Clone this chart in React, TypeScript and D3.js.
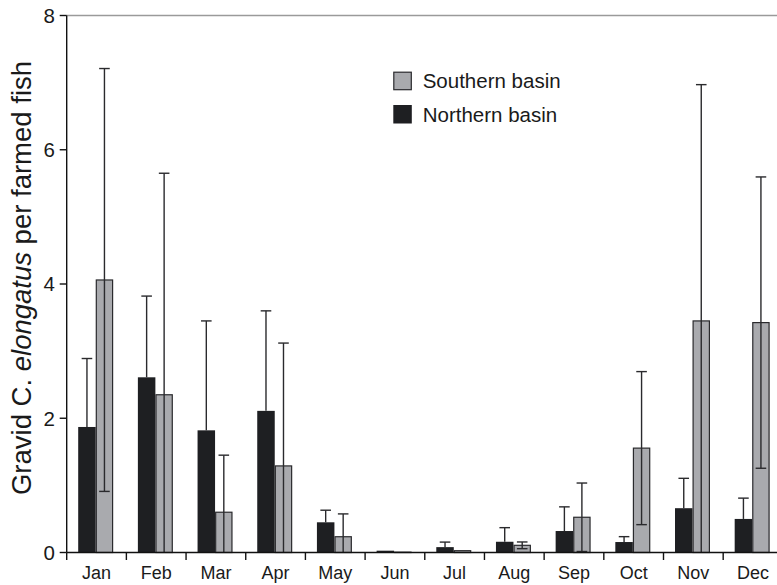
import React from "react";
import * as d3 from "d3";

const months = ["Jan", "Feb", "Mar", "Apr", "May", "Jun", "Jul", "Aug", "Sep", "Oct", "Nov", "Dec"];
const northern = [1.87, 2.61, 1.82, 2.11, 0.45, 0.027, 0.08, 0.16, 0.32, 0.156, 0.66, 0.5];
const northernErr = [1.02, 1.21, 1.63, 1.49, 0.18, 0.0, 0.075, 0.21, 0.36, 0.08, 0.445, 0.31];
const southern = [4.06, 2.35, 0.6, 1.29, 0.235, 0.005, 0.027, 0.107, 0.525, 1.555, 3.45, 3.425];
const southernErr = [3.15, 3.3, 0.85, 1.83, 0.34, 0, 0, 0.05, 0.51, 1.14, 3.52, 2.17];
const yTicks = [0, 2, 4, 6, 8];

const W = 777;
const H = 585;
const FONT = "'Liberation Sans', Arial, Helvetica, sans-serif";
const BLACK = "#1e1f22";
const GREY = "#a9aaae";
const LINE = "#2a2a2d";

export default function App() {
  const x0 = 66.7;
  const step = 59.68;
  const x = d3.scaleBand<string>().domain(months).range([x0, x0 + step * 12]).padding(0);
  const inner = d3.scaleBand<string>().domain(["N", "S"]).range([11.5, 46.5]).padding(0);
  const y = d3.scaleLinear().domain([0, 8]).range([552.5, 15.5]);
  const bw = inner.bandwidth();
  const cap = 5.3;

  const series = [
    { key: "N", vals: northern, errs: northernErr, fill: BLACK, stroke: "none" },
    { key: "S", vals: southern, errs: southernErr, fill: GREY, stroke: LINE },
  ];

  return (
    <svg width={W} height={H} style={{ position: "absolute", left: 0, top: 0, background: "#fff" }}>
      <line x1={x0} x2={W} y1={y(8)} y2={y(8)} stroke="#9a9a9a" strokeWidth={1.3} />
      {series.map((s) =>
        months.map((m, i) => {
          const bx = (x(m) as number) + (inner(s.key) as number);
          const v = s.vals[i];
          return (
            <rect
              key={s.key + m}
              x={bx + (s.stroke === "none" ? 0 : 0.6)}
              y={y(v)}
              width={bw - (s.stroke === "none" ? 0 : 1.2)}
              height={y(0) - y(v)}
              fill={s.fill}
              stroke={s.stroke}
              strokeWidth={1.2}
            />
          );
        })
      )}
      {series.map((s) =>
        months.map((m, i) => {
          const e = s.errs[i];
          if (e <= 0) return null;
          const cx = (x(m) as number) + (inner(s.key) as number) + bw / 2;
          const v = s.vals[i];
          const hi = v + e;
          const dark = s.key === "N";
          const lo = dark ? v : Math.max(0, v - e);
          const showLo = !dark && v - e > 0.01;
          return (
            <g key={"e" + s.key + m} stroke={LINE} strokeWidth={1.4}>
              <line x1={cx} x2={cx} y1={y(hi)} y2={y(lo)} />
              <line x1={cx - cap} x2={cx + cap} y1={y(hi)} y2={y(hi)} />
              {showLo && <line x1={cx - cap} x2={cx + cap} y1={y(lo)} y2={y(lo)} />}
            </g>
          );
        })
      )}
      <line x1={x0} x2={x0} y1={y(8)} y2={y(0)} stroke="#111" strokeWidth={1.4} />
      <line x1={x0} x2={W} y1={y(0)} y2={y(0)} stroke="#111" strokeWidth={1.4} />
      {yTicks.map((t) => (
        <g key={"yt" + t}>
          <line x1={x0 - 7} x2={x0} y1={y(t)} y2={y(t)} stroke="#111" strokeWidth={1.4} />
          <text x={55} y={y(t)} dy="0.36em" textAnchor="end" fontFamily={FONT} fontSize={20.5} fill="#1a1a1a">
            {t}
          </text>
        </g>
      ))}
      {months.map((m) => (
        <g key={"xt" + m}>
          <line x1={x(m) as number} x2={x(m) as number} y1={y(0)} y2={y(0) + 7.5} stroke="#111" strokeWidth={1.4} />
          <text
            x={(x(m) as number) + step / 2}
            y={579}
            textAnchor="middle"
            fontFamily={FONT}
            fontSize={18}
            fill="#1a1a1a"
          >
            {m}
          </text>
        </g>
      ))}
      <text
        transform={`translate(31,${278}) rotate(-90)`}
        textAnchor="middle"
        fontFamily={FONT}
        fontSize={27.5}
        fill="#1a1a1a"
      >
        Gravid C. <tspan fontStyle="italic">elongatus</tspan> per farmed fish
      </text>
      <rect x={393.8} y={72.2} width={17.5} height={17.5} fill={GREY} stroke={LINE} strokeWidth={1.2} />
      <text x={422.7} y={81} dy="0.36em" fontFamily={FONT} fontSize={20.5} fill="#1a1a1a">
        Southern basin
      </text>
      <rect x={393.3} y={105} width={18.5} height={18.5} fill={BLACK} />
      <text x={422.7} y={114.3} dy="0.36em" fontFamily={FONT} fontSize={20.5} fill="#1a1a1a">
        Northern basin
      </text>
    </svg>
  );
}
